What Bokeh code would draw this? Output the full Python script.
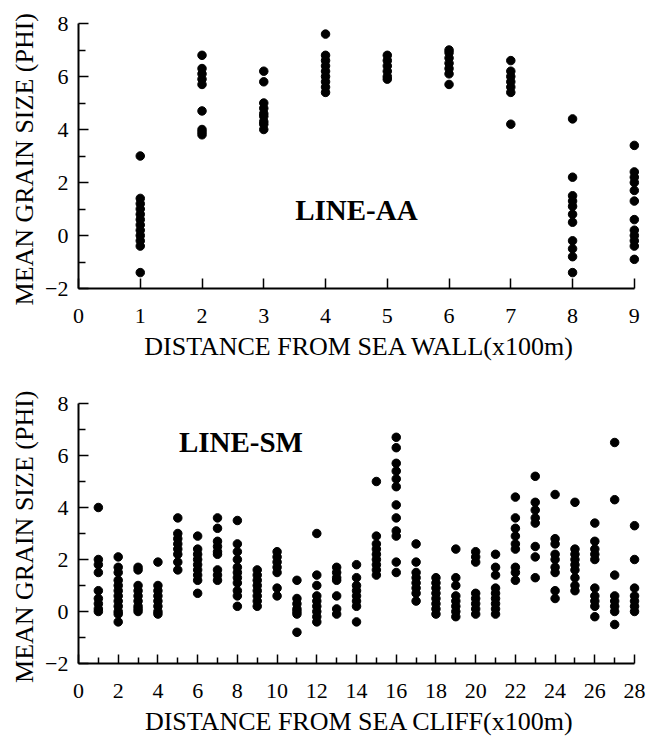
from bokeh.plotting import figure
from bokeh.layouts import column
from bokeh.models import FixedTicker, Label, Range1d
from bokeh.embed import file_html
from bokeh.resources import INLINE

# ---- Data: LINE-AA (distance from sea wall, x100 m) ----
aa_distance = [1, 2, 3, 4, 5, 6, 7, 8, 9]
aa_phi = [
    [3.0, 1.4, 1.2, 1.0, 0.8, 0.6, 0.4, 0.2, 0.0, -0.2, -0.4, -1.4],
    [6.8, 6.3, 6.1, 5.9, 5.7, 4.7, 4.0, 3.9, 3.8],
    [6.2, 5.8, 5.0, 4.8, 4.6, 4.5, 4.3, 4.2, 4.0],
    [7.6, 6.8, 6.6, 6.4, 6.2, 6.0, 5.8, 5.6, 5.4],
    [6.8, 6.6, 6.4, 6.2, 6.0, 5.9],
    [7.0, 6.9, 6.7, 6.5, 6.3, 6.1, 5.7],
    [6.6, 6.2, 6.0, 5.8, 5.6, 5.4, 4.2],
    [4.4, 2.2, 1.5, 1.3, 1.1, 0.8, 0.5, -0.2, -0.5, -0.8, -1.4],
    [3.4, 2.4, 2.2, 2.0, 1.7, 1.3, 0.6, 0.2, 0.0, -0.2, -0.4, -0.9],
]

# ---- Data: LINE-SM (distance from sea cliff, x100 m) ----
sm_distance = list(range(1, 29))
sm_phi = [
    [4.0, 2.0, 1.8, 1.5, 0.8, 0.5, 0.3, 0.1, 0.0],
    [2.1, 1.7, 1.5, 1.2, 1.0, 0.8, 0.6, 0.4, 0.2, 0.0, -0.1, -0.4],
    [1.7, 1.6, 1.0, 0.8, 0.6, 0.4, 0.2, 0.1, 0.0],
    [1.9, 1.0, 0.8, 0.6, 0.4, 0.2, 0.0, -0.1],
    [3.6, 3.0, 2.8, 2.6, 2.4, 2.2, 1.9, 1.6],
    [2.9, 2.4, 2.2, 2.0, 1.8, 1.6, 1.4, 1.2, 0.7],
    [3.6, 3.2, 2.7, 2.5, 2.3, 2.2, 1.6, 1.4, 1.2],
    [3.5, 2.6, 2.3, 2.0, 1.7, 1.5, 1.3, 1.1, 0.8, 0.6, 0.2],
    [1.6, 1.4, 1.2, 1.0, 0.8, 0.6, 0.4, 0.2],
    [2.3, 2.1, 1.9, 1.7, 1.5, 0.9, 0.6],
    [1.2, 0.5, 0.3, 0.1, 0.0, -0.1, -0.8],
    [3.0, 1.4, 1.0, 0.6, 0.4, 0.2, 0.0, -0.2, -0.4],
    [1.7, 1.5, 1.3, 1.2, 0.6, 0.1, -0.1],
    [1.8, 1.3, 1.0, 0.8, 0.6, 0.4, 0.2, -0.4],
    [5.0, 2.9, 2.6, 2.4, 2.2, 2.0, 1.8, 1.6, 1.4],
    [6.7, 6.3, 5.7, 5.4, 5.1, 4.8, 4.1, 3.6, 3.1, 2.9, 1.9, 1.5],
    [2.6, 1.9, 1.5, 1.3, 1.1, 0.9, 0.7, 0.4],
    [1.3, 1.1, 0.9, 0.7, 0.5, 0.3, 0.1, -0.1],
    [2.4, 1.3, 1.0, 0.6, 0.4, 0.2, 0.0, -0.2],
    [2.3, 2.1, 1.9, 0.7, 0.5, 0.3, 0.1, -0.1],
    [2.2, 1.7, 1.4, 0.9, 0.7, 0.5, 0.3, 0.1, -0.1],
    [4.4, 3.6, 3.2, 2.9, 2.6, 2.4, 1.7, 1.5, 1.2],
    [5.2, 4.2, 3.9, 3.6, 3.4, 2.5, 2.1, 1.3],
    [4.5, 2.8, 2.6, 2.2, 2.0, 1.7, 1.5, 0.8, 0.5],
    [4.2, 2.4, 2.2, 2.0, 1.8, 1.6, 1.3, 1.0, 0.8],
    [3.4, 2.7, 2.4, 2.2, 2.0, 0.9, 0.6, 0.4, 0.2, -0.2],
    [6.5, 4.3, 1.4, 0.6, 0.4, 0.2, 0.0, -0.5],
    [3.3, 2.0, 0.9, 0.6, 0.4, 0.2, 0.0],
]

y_major = [-2, 0, 2, 4, 6, 8]
y_minor = [-1, 1, 3, 5, 7]
aa_xticks = [0, 1, 2, 3, 4, 5, 6, 7, 8, 9]
sm_xmajor = list(range(0, 29, 2))
sm_xminor = list(range(1, 28, 2))

Y_TITLE = "MEAN GRAIN SIZE  (PHI)"
AA_X_TITLE = "DISTANCE FROM SEA WALL(x100m)"
SM_X_TITLE = "DISTANCE FROM SEA CLIFF(x100m)"

FONT = "Liberation Serif"


def flatten(xs, groups):
    fx, fy = [], []
    for x, g in zip(xs, groups):
        for v in g:
            fx.append(x)
            fy.append(v)
    return fx, fy


def style(p, x_bounds, xtitle, x_ticker, x_major_in, x_minor_in):
    p.grid.visible = False
    p.outline_line_color = None
    p.background_fill_color = "white"
    p.border_fill_color = "white"
    for ax in (p.xaxis[0], p.yaxis[0]):
        ax.axis_line_width = 2
        ax.axis_line_color = "black"
        ax.major_tick_line_width = 1.5
        ax.minor_tick_line_width = 1.5
        ax.major_tick_line_color = "black"
        ax.minor_tick_line_color = "black"
        ax.major_tick_out = 0
        ax.minor_tick_out = 0
        ax.major_label_text_font = FONT
        ax.major_label_text_font_size = "22px"
        ax.major_label_text_color = "black"
        ax.axis_label_text_font = FONT
        ax.axis_label_text_font_style = "normal"
        ax.axis_label_text_color = "black"
        ax.axis_label_text_font_size = "26px"
    xa = p.xaxis[0]
    xa.bounds = x_bounds
    xa.ticker = x_ticker
    xa.major_tick_in = x_major_in
    xa.minor_tick_in = x_minor_in
    xa.major_label_standoff = 20
    xa.axis_label = xtitle
    xa.axis_label_standoff = 6
    ya = p.yaxis[0]
    ya.bounds = (-2, 8)
    ya.ticker = FixedTicker(ticks=y_major, minor_ticks=y_minor)
    ya.major_tick_in = 10
    ya.minor_tick_in = 7
    ya.major_label_standoff = 10
    ya.axis_label = Y_TITLE
    ya.axis_label_standoff = 3


# ---- Top figure ----
p1 = figure(width=650, height=368, x_range=Range1d(0, 9.1), y_range=Range1d(-2, 8),
            output_backend="svg", toolbar_location=None,
            min_border_left=78, min_border_right=10, min_border_top=23, min_border_bottom=80)
ax_x, ax_y = flatten(aa_distance, aa_phi)
p1.scatter(ax_x, ax_y, size=8.5, color="black")
style(p1, (0, 9), AA_X_TITLE, FixedTicker(ticks=aa_xticks, minor_ticks=[]), 10, 0)
p1.add_layout(Label(x=4.5, y=0.95, text="LINE-AA", text_align="center", text_baseline="middle",
                    text_font=FONT, text_font_style="bold", text_font_size="29px", text_color="black"))

# ---- Bottom figure ----
p2 = figure(width=650, height=370, x_range=Range1d(0, 28.3), y_range=Range1d(-2, 8),
            output_backend="svg", toolbar_location=None,
            min_border_left=78, min_border_right=10, min_border_top=35, min_border_bottom=70)
sx, sy = flatten(sm_distance, sm_phi)
p2.scatter(sx, sy, size=8.5, color="black")
style(p2, (0, 28), SM_X_TITLE, FixedTicker(ticks=sm_xmajor, minor_ticks=sm_xminor), 9, 6)
p2.add_layout(Label(x=8.18, y=6.53, text="LINE-SM", text_align="center", text_baseline="middle",
                    text_font=FONT, text_font_style="bold", text_font_size="29px", text_color="black"))

layout = column(p1, p2, spacing=0)
open("out.html", "w").write(file_html(layout, INLINE))
